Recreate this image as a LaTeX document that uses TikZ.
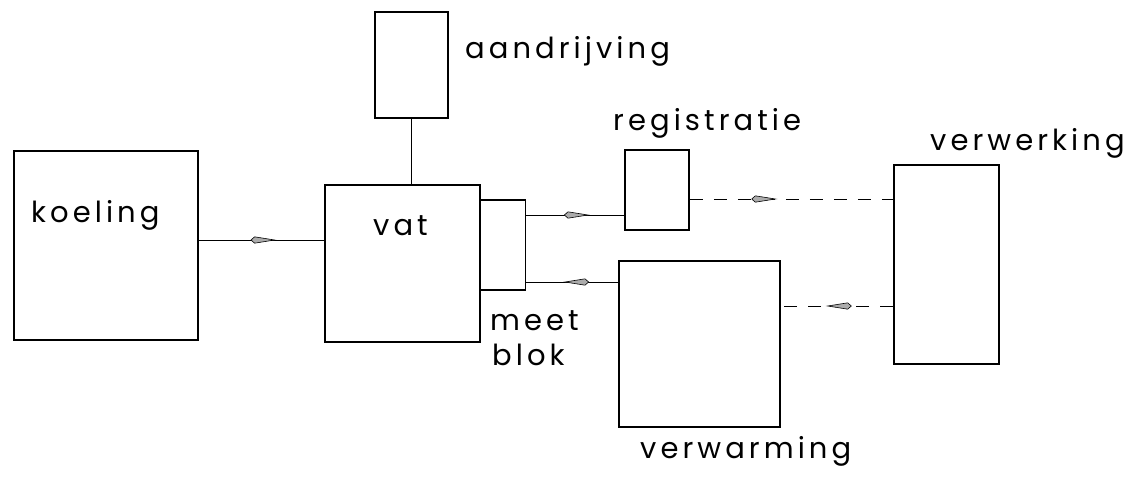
\documentclass[tikz,border=0pt]{standalone}
\usepackage{fontspec}
\setmainfont{Poppins}[LetterSpace=14]
\usetikzlibrary{arrows.meta,decorations.markings}
\tikzset{
  blok/.style={draw, line width=1.8pt, inner sep=0pt},
  lbl/.style={anchor=base west, inner sep=0pt, font=\fontsize{29}{31}\selectfont},
  conn/.style={line width=1pt},
  dconn/.style={line width=1pt, dash pattern=on 13pt off 11pt},
  midarrow/.style={postaction={decorate}, decoration={markings,
     mark=at position #1 with {\arrow[line width=0.6pt]{Kite[length=26pt,width=7pt,inset=4pt,fill=gray!65]}}}},
}
\begin{document}
\begin{tikzpicture}[x=1pt,y=-1pt]
\useasboundingbox (0,0) rectangle (1146,477);
% boxes
\node[blok, minimum width=73pt, minimum height=106pt] (aandr) at (411.5,65) {};
\node[blok, minimum width=184pt, minimum height=189pt] (koeling) at (106,245.5) {};
\node[blok, minimum width=155pt, minimum height=157pt] (vat) at (402.5,263.5) {};
\node[blok, minimum width=45pt, minimum height=90pt] (meetblok) at (503,245) {};
\node[blok, minimum width=64pt, minimum height=80pt] (registratie) at (657,190) {};
\node[blok, minimum width=161pt, minimum height=166pt] (verwarming) at (699.5,344) {};
\node[blok, minimum width=105pt, minimum height=199pt] (verwerking) at (946.5,264.5) {};
% labels
\node[lbl] (t1) at (31,222) {koeling};
\node[lbl] (t2) at (373,235) {vat};
\node[lbl] (t3) at (465,58) {aandrijving};
\node[lbl] (t4) at (613,130) {registratie};
\node[lbl] (t5) at (930,150) {verwerking};
\node[lbl] (t6) at (490,330) {meet};
\node[lbl] (t7) at (492,365) {blok};
\node[lbl] (t8) at (640,458) {verwarming};
% connectors
\draw[conn] (aandr.south) -- (aandr.south |- vat.north);
\coordinate (k1) at ([yshift=5.5pt]koeling.east);
\draw[conn, midarrow=0.62] (k1) -- (k1 -| vat.west);
\coordinate (m1) at ([yshift=30pt]meetblok.east);
\draw[conn, midarrow=0.65] (m1) -- (m1 -| registratie.west);
\coordinate (m2) at ([yshift=-37pt]meetblok.east);
\draw[conn, midarrow=0.6] (m2 -| verwarming.west) -- (m2);
\coordinate (r1) at ([yshift=-9pt]registratie.east);
\draw[dconn, midarrow=0.43] (r1) -- (r1 -| verwerking.west);
\coordinate (v1) at ([yshift=-41.5pt]verwerking.west);
\draw[dconn, midarrow=0.6] (v1) -- (v1 -| verwarming.east);
\end{tikzpicture}
\end{document}
